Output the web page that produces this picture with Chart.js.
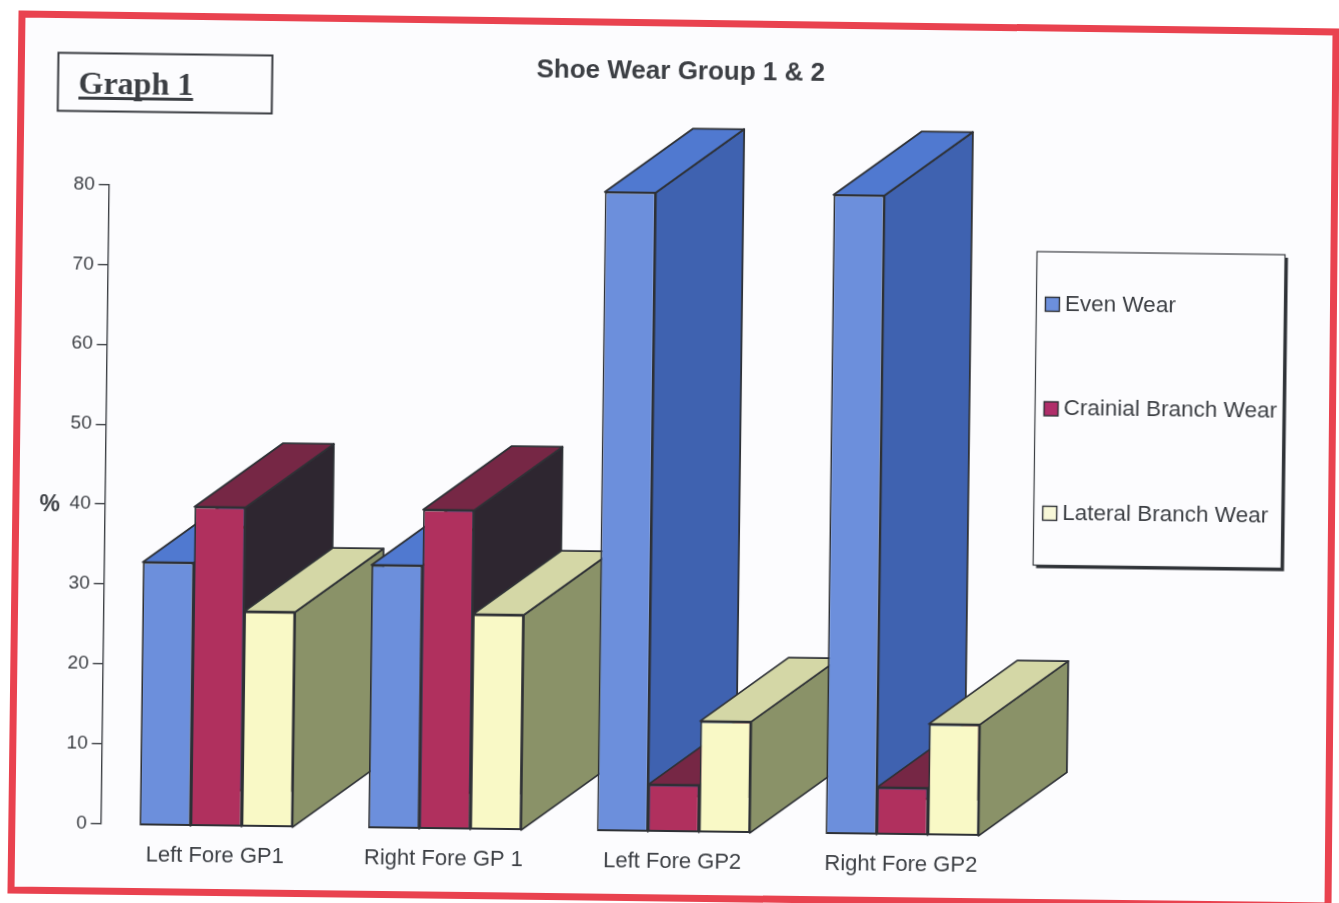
<!DOCTYPE html>
<html>
<head>
<meta charset="utf-8">
<title>Shoe Wear Group 1 &amp; 2</title>
<script src="https://cdn.jsdelivr.net/npm/chart.js@4"></script>
<style>
  html, body { margin: 0; padding: 0; background: #fff; overflow: hidden; }
  #sheet { position: absolute; left: 0; top: 0; width: 1339px; height: 903px; }
  #frame { position: absolute; left: 0; top: 0; }
  #tilt { position: absolute; left: 0; top: 0; width: 1339px; height: 903px;
          transform: rotate(0.72deg); transform-origin: 669.5px 451.5px; }
  canvas { display: block; }
</style>
</head>
<body>
<div id="sheet">
  <svg id="frame" width="1339" height="903">
    <polygon points="22,14 1336,32 1328,906 11,890" fill="#fcfcfe" stroke="#e9424f" stroke-width="7"/>
  </svg>
  <div id="tilt"><canvas id="chart" width="1339" height="903"></canvas></div>
</div>
<script>
// Shoe wear percentages per limb and group
const categories = ['Left Fore GP1', 'Right Fore GP 1', 'Left Fore GP2', 'Right Fore GP2'];
const seriesNames = ['Even Wear', 'Crainial Branch Wear', 'Lateral Branch Wear'];
const evenWear = [33, 33, 80, 80];
const cranialBranchWear = [40, 40, 6, 6];
const lateralBranchWear = [27, 27, 14, 14];
const yTicks = [0, 10, 20, 30, 40, 50, 60, 70, 80];

const chartTitle = 'Shoe Wear Group 1 & 2';
const boxedHeading = 'Graph 1';
const unitLabel = '%';

const INK = '#3c3f44';
const EDGE = '#2e3136';
const FONT = '"Liberation Sans", Arial, sans-serif';

// Face shades for each series: front, top, right side
const faces = [
  { front: '#6c8fdc', top: '#5079d0', side: '#3f62b0', swatch: '#6c8fdc' },
  { front: '#b0305e', top: '#762745', side: '#2e2630', swatch: '#b02e6a' },
  { front: '#f9f9c6', top: '#d4d7a6', side: '#8a9268', swatch: '#f8f8d8' }
];

// Extrusion of every bar, and the small offset of the bars from the value axis
const DEPTH = { x: 87.5, y: -64.5 };
const BAR_SHIFT = { x: 0.9, y: 1.5 };

function polygon(ctx, pts, fill) {
  ctx.beginPath();
  pts.forEach((p, i) => (i ? ctx.lineTo(p[0], p[1]) : ctx.moveTo(p[0], p[1])));
  ctx.closePath();
  ctx.fillStyle = fill;
  ctx.fill();
  ctx.stroke();
}

// Top and side faces go under the fronts, which Chart.js paints afterwards
const extrudedBars = {
  id: 'extrudedBars',
  beforeDatasetsDraw(chart) {
    const ctx = chart.ctx;
    ctx.save();
    ctx.translate(BAR_SHIFT.x, BAR_SHIFT.y);
    ctx.lineWidth = 1.8;
    ctx.lineJoin = 'round';
    ctx.strokeStyle = EDGE;
    categories.forEach((_, c) => {
      seriesNames.forEach((_, s) => {
        const bar = chart.getDatasetMeta(s).data[c];
        const l = bar.x - bar.width / 2;
        const r = bar.x + bar.width / 2;
        const t = bar.y;
        const b = bar.base;
        polygon(ctx, [[r, t], [r + DEPTH.x, t + DEPTH.y], [r + DEPTH.x, b + DEPTH.y], [r, b]], faces[s].side);
        polygon(ctx, [[l, t], [l + DEPTH.x, t + DEPTH.y], [r + DEPTH.x, t + DEPTH.y], [r, t]], faces[s].top);
      });
    });
  },
  afterDatasetsDraw(chart) {
    chart.ctx.restore();
  }
};

// Boxed heading, unit label and framed legend
const annotations = {
  id: 'annotations',
  afterLayout(chart) {
    chart.titleBlock.left = 13;
    chart.titleBlock.right = 1339;
  },
  afterDraw(chart) {
    const ctx = chart.ctx;
    ctx.save();
    ctx.textBaseline = 'middle';

    // heading box
    ctx.strokeStyle = '#3a3d42';
    ctx.lineWidth = 2;
    ctx.strokeRect(53.5, 60.5, 214, 58);
    ctx.fillStyle = INK;
    ctx.font = 'bold 32px "Liberation Serif", "Times New Roman", serif';
    ctx.textAlign = 'left';
    ctx.fillText(boxedHeading, 74, 93);
    ctx.fillRect(74, 104, ctx.measureText(boxedHeading).width, 3);

    // unit label
    ctx.font = 'bold 23px ' + FONT;
    ctx.textAlign = 'center';
    ctx.fillText(unitLabel, 50.6, 513);

    // legend frame with its heavier right and lower edges
    ctx.fillStyle = '#2e3136';
    ctx.fillRect(1037.5, 250, 248, 313.5);
    ctx.fillStyle = '#fcfcfe';
    ctx.fillRect(1034.5, 247, 248, 313.5);
    ctx.strokeStyle = '#3a3d42';
    ctx.lineWidth = 1.2;
    ctx.strokeRect(1034.5, 247, 248, 313.5);

    // legend entries
    const rowY = [299.5, 404, 508.5];
    ctx.font = '22.5px ' + FONT;
    ctx.textAlign = 'left';
    seriesNames.forEach((name, i) => {
      ctx.fillStyle = faces[i].swatch;
      ctx.strokeStyle = EDGE;
      ctx.lineWidth = 1.4;
      ctx.fillRect(1043.5, rowY[i] - 7, 14, 14);
      ctx.strokeRect(1043.5, rowY[i] - 7, 14, 14);
      ctx.fillStyle = INK;
      ctx.fillText(name, 1063, rowY[i]);
    });
    ctx.restore();
  }
};

const seriesValues = [evenWear, cranialBranchWear, lateralBranchWear];

new Chart(document.getElementById('chart'), {
  type: 'bar',
  data: {
    labels: categories,
    datasets: seriesNames.map((name, i) => ({
      label: name,
      data: seriesValues[i],
      backgroundColor: faces[i].front,
      borderColor: EDGE,
      borderWidth: 1.8,
      borderSkipped: false,
      clip: false,
      barPercentage: 1,
      categoryPercentage: 0.669
    }))
  },
  options: {
    responsive: false,
    animation: false,
    events: [],
    layout: { padding: { left: 45.5, right: 318.7, top: 0, bottom: 17.5 } },
    plugins: {
      legend: { display: false },
      tooltip: { enabled: false },
      title: {
        display: true,
        text: chartTitle,
        color: INK,
        font: { family: FONT, size: 26, weight: 'bold' },
        padding: { top: 56.5, bottom: 103.6 }
      }
    },
    scales: {
      x: {
        grid: { display: false },
        border: { display: false },
        ticks: {
          color: INK,
          font: { family: FONT, size: 22 },
          padding: 10,
          maxRotation: 0,
          autoSkip: false
        }
      },
      y: {
        min: 0,
        max: 80,
        afterFit(scale) { scale.width = 60; },
        afterBuildTicks(scale) { scale.ticks = yTicks.map(v => ({ value: v })); },
        grid: { drawOnChartArea: false, drawTicks: true, tickLength: 10, color: '#3f4247', lineWidth: 1.4 },
        border: { display: true, color: '#3f4247', width: 1.4 },
        ticks: {
          color: INK,
          font: { family: FONT, size: 19 },
          padding: 4
        }
      }
    }
  },
  plugins: [extrudedBars, annotations]
});
</script>
</body>
</html>
